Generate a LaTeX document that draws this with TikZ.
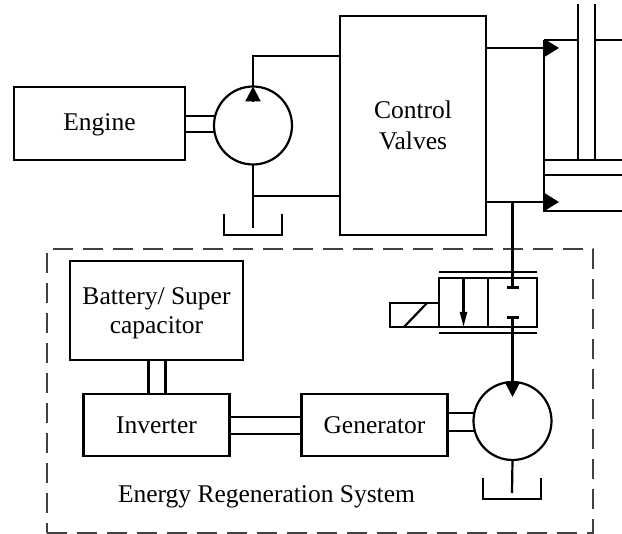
\documentclass[tikz,border=0pt]{standalone}
\usepackage{fontspec}
\setmainfont{Liberation Serif}
\usetikzlibrary{arrows.meta,positioning,calc}

\begin{document}
\begin{tikzpicture}[
  x=1pt, y=-1pt,
  font=\fontsize{25.5}{30}\selectfont,
  line width=2.2pt,
  n/.style={draw, align=center, inner sep=0pt, outer sep=0pt},
  pumpnode/.style={draw, circle, inner sep=0pt, outer sep=0pt, minimum size=78pt},
  arr/.style={-{Triangle[length=15pt, width=18pt]}},
  arrsmall/.style={-{Triangle[length=15pt, width=7pt]}},
  tank/.pic={\draw (-29,-21) |- (29,0) -- (29,-21);}
]
\useasboundingbox (0,0) rectangle (622,534);
% dashed frame
\node[n, draw=black!75, dash pattern=on 20pt off 10pt, line width=1.1pt, minimum width=546pt, minimum height=284pt] (ers) at (320,391) {};
% upper row
\node[n, minimum width=171pt, minimum height=73pt, text depth=2pt] (engine) at (99.5,123.5) {Engine};
\node[pumpnode, right=29pt of engine, yshift=-2pt] (pumpa) {};
\node[n, right=48pt of pumpa, minimum width=146pt, minimum height=219pt, execute at begin node={\baselineskip=31pt}] (valves) {Control\\Valves};
% lower row
\node[n, minimum width=173pt, minimum height=99pt, text depth=0pt, execute at begin node={\baselineskip=29pt}] (battery) at (156.5,310.5) {Battery/ Super\\capacitor};
\node[n, below=34pt of battery, minimum width=146pt, minimum height=62pt] (inverter) {Inverter};
\node[n, right=72pt of inverter, minimum width=146pt, minimum height=62pt] (generator) {Generator};
\node[pumpnode, right=26pt of generator, yshift=4pt] (pumpb) {};
\node[below=29pt of inverter, xshift=110pt, inner sep=0pt] (regen) {Energy Regeneration System};
% valve
\node[n, minimum size=49pt] (valvea) at (463.5,302.5) {};
\node[n, right=0pt of valvea, minimum size=49pt] (valveb) {};
\node[n, anchor=south east, minimum width=49pt, minimum height=24pt] (coil) at (valvea.south west) {};
\coordinate (capa) at ($(valveb.center)+(0,-15)$);
\coordinate (capb) at ($(valveb.center)+(0,15)$);
% tanks
\coordinate (tanka) at (253,235);
\coordinate (tankb) at (512,499);
\pic at (tanka) {tank};
\pic at (tankb) {tank};
% shafts
\draw (engine.east |- pumpa.166) -- (pumpa.166);
\draw (engine.east |- pumpa.190) -- (pumpa.190);
\draw (generator.east |- pumpb.168) -- (pumpb.168);
\draw (generator.east |- pumpb.195) -- (pumpb.195);
\draw ($(inverter.east)+(0,-8)$) -- ($(generator.west)+(0,-8)$);
\draw ($(inverter.east)+(0,9)$) -- ($(generator.west)+(0,9)$);
\draw ($(battery.south)+(-8,0)$) -- ($(inverter.north)+(-8,0)$);
\draw ($(battery.south)+(9,0)$) -- ($(inverter.north)+(9,0)$);
% pump lines
\coordinate (pipea) at (pumpa |- 0,56);
\coordinate (pipeb) at (pumpa |- 0,196);
\draw (pumpa.north) -- (pipea) -- (pipea -| valves.west);
\draw[-{Triangle[length=15pt, width=15pt]}] ($(pumpa.north)+(0,15)$) -- (pumpa.north);
\draw (pumpa.south) -- ($(tanka)+(0,-7)$);
\draw (pipeb) -- (pipeb -| valves.west);
% cylinder
\coordinate (cyla) at (544,40);
\coordinate (cylb) at (544,211);
\coordinate (outa) at (544,48);
\coordinate (outb) at (544,202);
\draw (cyla) -- (cylb) -- (622,211);
\draw (cyla) -- (578,40) (595,40) -- (622,40);
\draw (578,4) -- (578,160) (595,4) -- (595,160);
\draw (544,160) -- (622,160) (544,175) -- (622,175);
\draw[arr] (outa -| valves.east) -- ($(outa)+(15,0)$);
\draw[arr] (outb -| valves.east) -- ($(outb)+(15,0)$);
% valve details
\coordinate (tap) at (capa |- outb);
\draw (tap) -- (capa);
\draw ($(capa)+(-6,0)$) -- ($(capa)+(6,0)$);
\draw ($(capb)+(-6,0)$) -- ($(capb)+(6,0)$);
\draw[-{Triangle[length=15pt, width=15pt]}] (capb) -- ($(pumpb.north)+(0,15)$);
\draw (pumpb.south) -- ($(tankb)+(0,-6)$);
\draw ($(valvea.north west)+(0,-6)$) -- ($(valveb.north east)+(0,-6)$);
\draw ($(valvea.south west)+(0,6)$) -- ($(valveb.south east)+(0,6)$);
\draw[arrsmall] (valvea.north) -- (valvea.south);
\draw ($(coil.south west)+(14,0)$) -- ($(coil.north west)+(37,0)$);
\end{tikzpicture}
\end{document}
